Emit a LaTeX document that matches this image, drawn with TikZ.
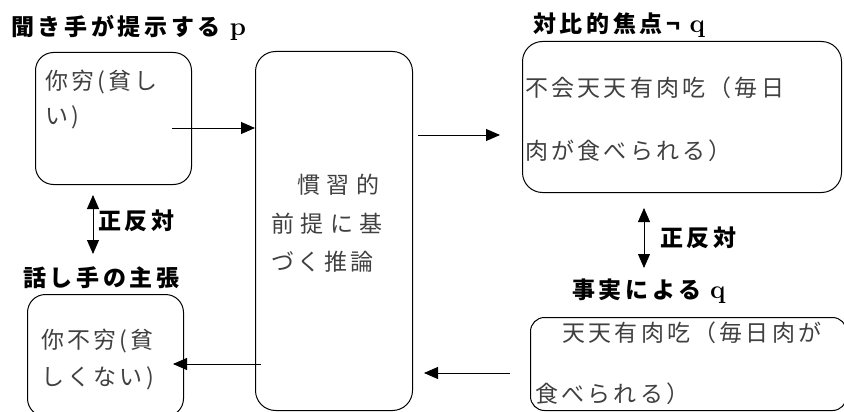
\documentclass[tikz,border=0pt]{standalone}
\usepackage{fontspec}
\usetikzlibrary{arrows.meta}
\newfontfamily\cjkt[LetterSpace=16]{Noto Sans CJK JP}
\newfontfamily\cjkb[LetterSpace=14]{Noto Sans CJK JP}
\newfontfamily\cjkm[LetterSpace=28]{Noto Sans CJK JP}
\newfontfamily\cjkn[LetterSpace=15]{Noto Sans CJK JP}
\begin{document}
\begin{tikzpicture}[x=1pt,y=-1pt,
  box/.style={draw, line width=1pt, inner sep=0pt, anchor=north west},
  ttl/.style={anchor=west, inner sep=0pt, font=\cjkt\bfseries\fontsize{23}{27}\selectfont},
  txt/.style={anchor=west, inner sep=0pt, text=black!75, font=\cjkb\fontsize{23}{27}\selectfont},
  mtxt/.style={anchor=west, inner sep=0pt, text=black!75, font=\cjkm\fontsize{23}{27}\selectfont},
  ntxt/.style={anchor=west, inner sep=0pt, text=black!75, font=\cjkn\fontsize{23}{27}\selectfont},
  arr/.style={line width=0.9pt, -{Triangle[length=14pt,width=12pt]}},
  darr/.style={line width=0.9pt, {Triangle[length=14pt,width=12pt]}-{Triangle[length=14pt,width=12pt]}}]
\useasboundingbox (0,0) rectangle (844,412);
% boxes
\node[box, rounded corners=18pt, minimum width=156pt, minimum height=132pt] (A) at (35,52) {};
\node[box, rounded corners=20pt, minimum width=157pt, minimum height=359pt] (M) at (255,51) {};
\node[box, rounded corners=20pt, minimum width=319pt, minimum height=151pt] (C) at (522,41) {};
\node[box, rounded corners=14pt, minimum width=316pt, minimum height=93pt] (D) at (530,317) {};
\node[box, rounded corners=18pt, minimum width=156pt, minimum height=122pt] (B) at (27,294) {};
% titles
\node[ttl] (t1) at (11,28) {聞き手が提示する {\normalfont\bfseries\fontsize{26}{30}\selectfont p}};
\node[ttl] (t2) at (533,25) {対比的焦点¬\hspace{9pt}{\normalfont\bfseries\fontsize{26}{30}\selectfont q}};
\node[ttl] (l1) at (98,221) {正反対};
\node[ttl] (t3) at (23,278) {話し手の主張};
\node[ttl] (l2) at (660,238) {正反対};
\node[ttl] (t4) at (572,291) {事実による {\normalfont\bfseries\fontsize{26}{30}\selectfont q}};
% box texts
\node[txt] (a1t) at (45,82) {你穷(貧し};
\node[txt] (a2t) at (45,117) {い)};
\node[txt] (b1t) at (41,341) {你不穷(貧};
\node[txt] (b2t) at (41,378) {しくない)};
\node[txt] (c1t) at (525,88) {不会天天有肉吃（毎日};
\node[txt] (c2t) at (525,151) {肉が食べられる）};
\node[txt] (d1t) at (536,333) {　天天有肉吃（毎日肉が};
\node[txt] (d2t) at (535,394) {食べられる）};
\node[mtxt] (m1t) at (297,185) {慣習的};
\node[mtxt] (m2t) at (271,224) {前提に基};
\node[ntxt] (m3t) at (271,262) {づく推論};
% connectors
\coordinate (pa) at (172,128);
\draw[arr] (pa) -- (pa -| M.west);
\coordinate (pm) at (418,135);
\coordinate (pc) at (500,135);
\draw[arr] (pm) -- (pc);
\coordinate (pd) at (510,373);
\coordinate (pm2) at (424,373);
\draw[arr] (pd) -- (pm2);
\coordinate (pm3) at (261,364);
\coordinate (pb) at (173,364);
\draw[arr] (pm3) -- (pb);
\coordinate (u1) at (93,195);
\coordinate (u2) at (93,254);
\draw[darr] (u1) -- (u2);
\coordinate (v1) at (644,208);
\coordinate (v2) at (644,268);
\draw[darr] (v1) -- (v2);
\end{tikzpicture}
\end{document}
